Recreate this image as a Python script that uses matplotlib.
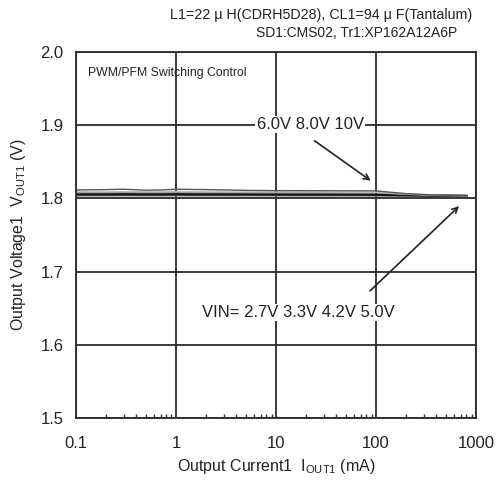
import numpy as np
import matplotlib.pyplot as plt
from matplotlib.ticker import FixedLocator, LogLocator, NullFormatter

plt.rcParams['font.family'] = ['Liberation Sans', 'DejaVu Sans']

# Output current (mA)
iout = [0.1, 0.2, 0.3, 0.5, 0.7, 1, 2, 5, 10, 20, 50, 100, 200, 400, 800]

# Output voltage per input voltage (V)
v_10 = [1.8115, 1.8120, 1.8125, 1.8112, 1.8115, 1.8125, 1.8120, 1.8110, 1.8106, 1.8105, 1.8104, 1.8102, 1.8065, 1.8045, 1.8038]
v_8 = [1.8090, 1.8090, 1.8092, 1.8090, 1.8090, 1.8092, 1.8090, 1.8088, 1.8087, 1.8086, 1.8085, 1.8083, 1.8060, 1.8042, 1.8036]
v_6 = [1.8080, 1.8080, 1.8081, 1.8080, 1.8080, 1.8081, 1.8080, 1.8079, 1.8078, 1.8078, 1.8077, 1.8076, 1.8055, 1.8040, 1.8035]
v_50 = [1.8055, 1.8055, 1.8056, 1.8055, 1.8055, 1.8056, 1.8055, 1.8055, 1.8054, 1.8054, 1.8053, 1.8052, 1.8045, 1.8038, 1.8034]
v_42 = [1.8048, 1.8048, 1.8049, 1.8048, 1.8048, 1.8049, 1.8048, 1.8048, 1.8047, 1.8047, 1.8046, 1.8045, 1.8040, 1.8036, 1.8033]
v_33 = [1.8040, 1.8040, 1.8041, 1.8040, 1.8040, 1.8041, 1.8040, 1.8040, 1.8040, 1.8039, 1.8039, 1.8038, 1.8036, 1.8034, 1.8032]
v_27 = [1.8035, 1.8035, 1.8036, 1.8035, 1.8035, 1.8036, 1.8035, 1.8035, 1.8035, 1.8034, 1.8034, 1.8033, 1.8032, 1.8031, 1.8030]

series = [
    (v_27, '#999999', 1.0),
    (v_33, '#666666', 1.0),
    (v_42, '#aaaaaa', 1.0),
    (v_50, '#111111', 1.8),
    (v_6, '#888888', 1.0),
    (v_8, '#bbbbbb', 1.0),
    (v_10, '#555555', 1.0),
]

txt = '#222222'

fig = plt.figure(figsize=(4.97, 4.82), dpi=100)
ax = fig.add_axes([0.153, 0.133, 0.805, 0.759])

for v, c, lw in series:
    ax.plot(iout, v, color=c, linewidth=lw)

ax.set_xscale('log')
ax.set_xlim(0.1, 1000)
ax.set_ylim(1.5, 2.0)
ax.set_yticks([1.5, 1.6, 1.7, 1.8, 1.9, 2.0])
ax.set_yticklabels(['1.5', '1.6', '1.7', '1.8', '1.9', '2.0'])
ax.xaxis.set_major_locator(FixedLocator([0.1, 1, 10, 100, 1000]))
ax.set_xticklabels(['0.1', '1', '10', '100', '1000'])
ax.xaxis.set_minor_locator(LogLocator(base=10, subs=np.arange(2, 10)))
ax.xaxis.set_minor_formatter(NullFormatter())
ax.tick_params(axis='both', which='major', length=0, labelsize=12, labelcolor=txt)
ax.tick_params(axis='x', which='major', pad=13)
ax.tick_params(axis='y', which='major', pad=9)
ax.tick_params(axis='x', which='minor', direction='in', length=3, width=1,
               color='#333333', bottom=True, top=False)
ax.grid(True, which='major', color='#2a2a2a', linewidth=1.3)
for s in ax.spines.values():
    s.set_color('#2a2a2a')
    s.set_linewidth(1.3)

ax.set_xlabel(r'Output Current1  I$_{\mathregular{OUT1}}$ (mA)', fontsize=11.5,
              color=txt, labelpad=4)
ax.set_ylabel(r'Output Voltage1  V$_{\mathregular{OUT1}}$ (V)', fontsize=11.5,
              color=txt, labelpad=9)

ax.text(0.03, 0.96, 'PWM/PFM Switching Control', transform=ax.transAxes,
        fontsize=8.8, va='top', ha='left', color=txt)

ax.text(22, 1.901, '6.0V 8.0V 10V', fontsize=12, ha='center', va='center', color=txt,
        bbox=dict(facecolor='white', edgecolor='none', pad=1))
ax.annotate('', xy=(93, 1.822), xytext=(23, 1.881),
            arrowprops=dict(arrowstyle='->', color='#222222', lw=1.2))

ax.text(16.6, 1.644, 'VIN= 2.7V 3.3V 4.2V 5.0V', fontsize=12, ha='center', va='center',
        color=txt, bbox=dict(facecolor='white', edgecolor='none', pad=1))
ax.annotate('', xy=(708, 1.792), xytext=(83, 1.671),
            arrowprops=dict(arrowstyle='->', color='#222222', lw=1.2))

fig.text(0.950, 0.969, 'L1=22 \u03bc H(CDRH5D28), CL1=94 \u03bc F(Tantalum)',
         fontsize=10.3, ha='right', va='center', color=txt)
fig.text(0.920, 0.932, 'SD1:CMS02, Tr1:XP162A12A6P', fontsize=10,
         ha='right', va='center', color=txt)

fig.savefig('out.png', dpi=100)
